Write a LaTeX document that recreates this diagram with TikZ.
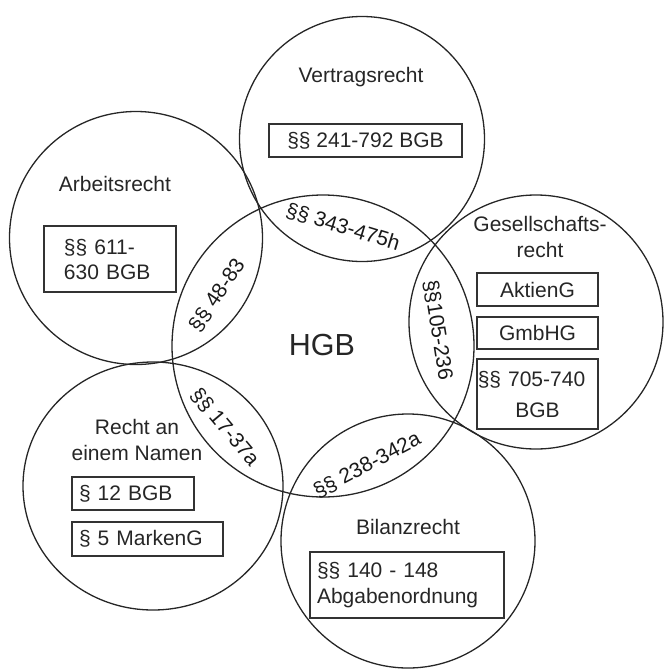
\documentclass[tikz,border=0pt]{standalone}
\usepackage{fontspec}
\setmainfont{Liberation Sans}
\usetikzlibrary{shapes.geometric}
\begin{document}
\begin{tikzpicture}[x=1pt,y=-1pt,
  ring/.style={draw=black!85, line width=1.3pt, circle, inner sep=0pt, outer sep=0pt, minimum size=#1},
  lbl/.style={text=black!85, font=\fontsize{21}{26}\selectfont, inner sep=0pt, align=center},
  lens/.style={text=black!90, font=\fontsize{21}{25}\selectfont, inner sep=0pt},
  lawbox/.style={draw=black!80, line width=1.2pt, text=black!85, font=\fontsize{21}{25}\selectfont, inner xsep=7pt, inner ysep=0pt}
]
\useasboundingbox (0,0) rectangle (666,670);
% circles
\node[ring=245pt] (vr) at (362,139) {};
\node[ring=253pt] (ar) at (136,238) {};
\node[ring=302pt] (hgb) at (323,346) {};
\node[ring=254pt] (gr) at (536,322) {};
\node[draw=black!85, line width=1.3pt, ellipse, inner sep=0pt, outer sep=0pt, minimum width=260pt, minimum height=248pt] (rn) at (153,486) {};
\node[ring=254pt] (br) at (408,541) {};
% centre label
\node[lbl, font=\fontsize{30.5}{36}\selectfont] (hgbt) at (322,345) {HGB};
% circle titles
\node[lbl] (vrt) at (361,77) {Vertragsrecht};
\node[lbl] (art) at (115,184) {Arbeitsrecht};
\node[lbl] (grt) at (540,237) {Gesellschafts-\\recht};
\node[lbl] (rnt) at (137,440) {Recht an\\einem Namen};
\node[lbl] (brt) at (408,527) {Bilanzrecht};
% boxes
\node[lawbox, minimum width=193pt, minimum height=33pt] (vrb) at (365.5,140.5) {§§ 241-792 BGB};
\node[lawbox, text width=118pt, minimum height=66pt, align=left, font=\fontsize{21}{25}\selectfont] (arb) at (110,259) {\hspace*{13pt}§§ 611-\\\hspace*{13pt}630 BGB};
\node[lawbox, minimum width=121pt, minimum height=33pt] (gr1) at (537.5,289.5) {AktienG};
\node[lawbox, minimum width=121pt, minimum height=32pt] (gr2) at (537.5,333) {GmbHG};
\node[lawbox, inner xsep=1pt, text width=119pt, minimum height=70pt, align=center, font=\fontsize{21}{31}\selectfont] (gr3) at (537.5,394) {\hspace*{-12pt}§§ 705-740\\BGB};
\node[lawbox, text width=108pt, minimum height=33pt, align=left] (rn1) at (133,493.5) {§ 12 BGB};
\node[lawbox, text width=137pt, minimum height=34pt, align=left] (rn2) at (147.5,539) {§ 5 MarkenG};
\node[lawbox, text width=180pt, minimum height=66pt, align=left, font=\fontsize{21}{26}\selectfont] (brb) at (407,585) {§§ 140 - 148\\Abgabenordnung};
% lens labels
\node[lens, rotate=-17] (l1) at (343,227) {§§ 343-475h};
\node[lens, rotate=56] (l2) at (217,295) {§§ 48-83};
\node[lens, rotate=-81] (l3) at (438,330) {§§105-236};
\node[lens, rotate=-50] (l4) at (225,427) {§§ 17-37a};
\node[lens, rotate=28] (l5) at (367,465) {§§ 238-342a};
\end{tikzpicture}
\end{document}
